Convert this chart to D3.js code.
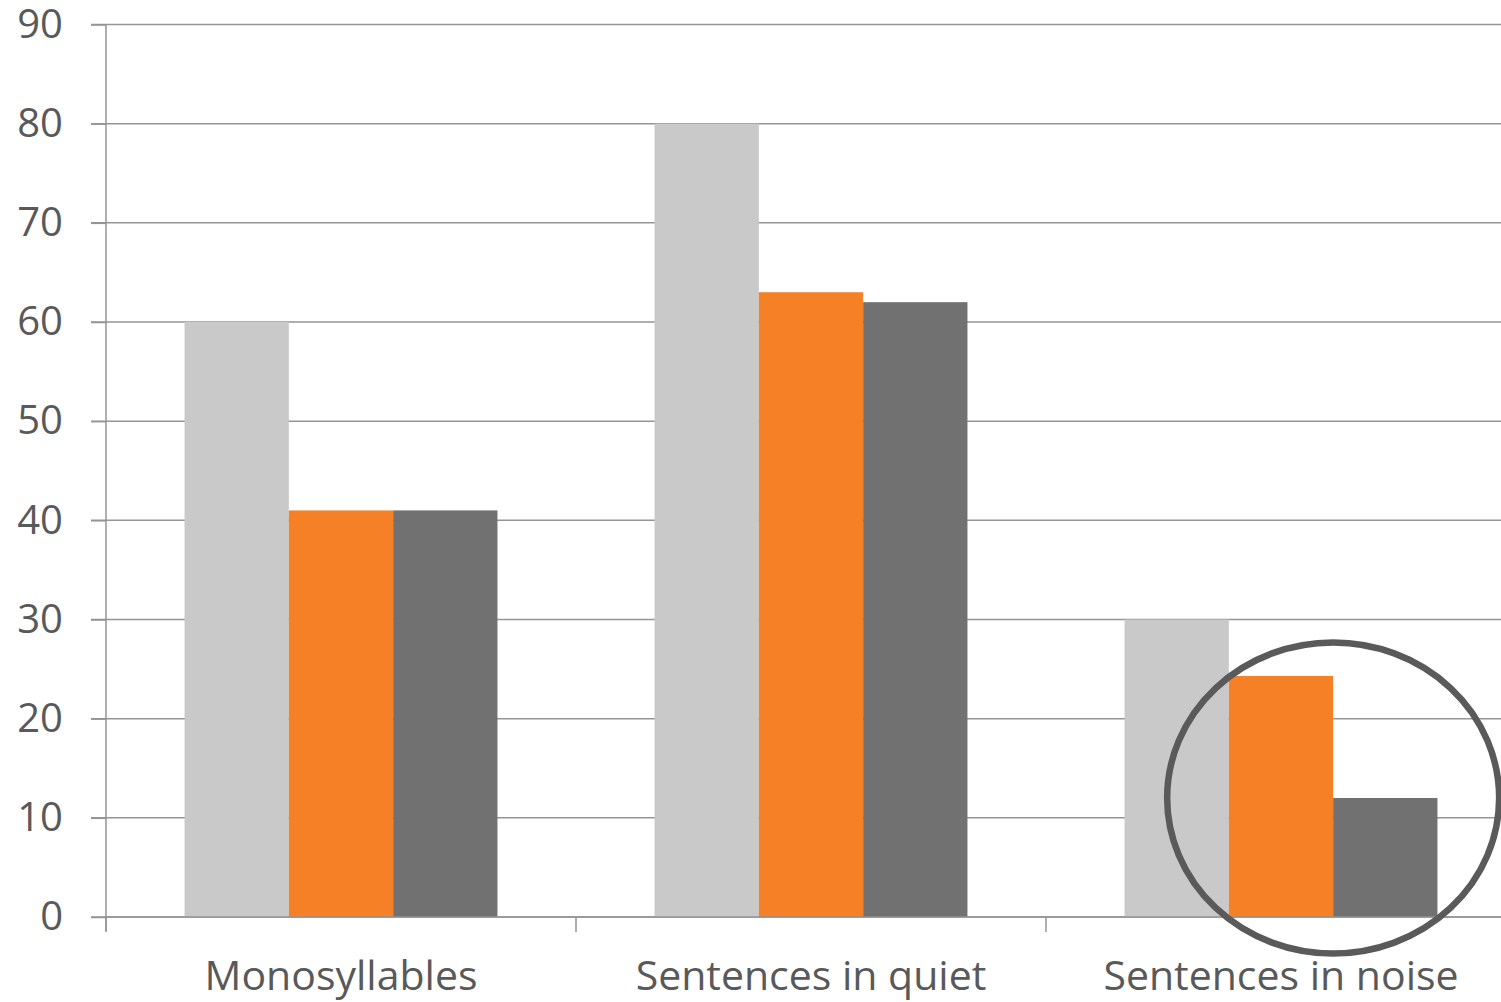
<!DOCTYPE html>
<html>
<head>
<meta charset="utf-8">
<script src="https://cdn.jsdelivr.net/npm/d3@7"></script>
<style>
  html, body { margin: 0; padding: 0; background: #ffffff; }
  svg { display: block; }
  text { font-family: "Open Sans", "Noto Sans", sans-serif; fill: #595959; }
</style>
</head>
<body>
<svg id="chart" width="1501" height="1002"></svg>
<script>
// Speech recognition scores by test condition
const categories = ["Monosyllables", "Sentences in quiet", "Sentences in noise"];
const seriesNames = ["Group A", "Group B", "Group C"];
const seriesColors = ["#c9c9c9", "#f58025", "#717171"];
const valuesA = [60, 80, 30];
const valuesB = [41, 63, 24.3];
const valuesC = [41, 62, 12];
const yTicks = [0, 10, 20, 30, 40, 50, 60, 70, 80, 90];

const seriesValues = [valuesA, valuesB, valuesC];

const svg = d3.select("#chart");
const plotLeft = 106, plotRight = 1516, plotTop = 24.5, plotBottom = 917;

const y = d3.scaleLinear().domain([0, 90]).range([plotBottom, plotTop]);
const x0 = d3.scaleBand().domain(categories).range([plotLeft, plotRight]).padding(0);
const x1 = d3.scaleBand().domain(seriesNames).range([0, x0.bandwidth()])
  .paddingInner(0).paddingOuter(0.753);

// Horizontal gridlines
svg.append("g")
  .selectAll("line")
  .data(yTicks)
  .join("line")
  .attr("x1", plotLeft - 15)
  .attr("x2", plotRight)
  .attr("y1", d => y(d))
  .attr("y2", d => y(d))
  .attr("stroke", "#959595")
  .attr("stroke-width", 1.5);

// Bars
const groups = svg.append("g")
  .selectAll("g")
  .data(categories)
  .join("g")
  .attr("transform", d => `translate(${x0(d)},0)`);

groups.selectAll("rect")
  .data((c, i) => seriesNames.map((s, k) => ({ s, k, v: seriesValues[k][i] })))
  .join("rect")
  .attr("x", d => x1(d.s))
  .attr("width", x1.bandwidth())
  .attr("y", d => y(d.v))
  .attr("height", d => y(0) - y(d.v))
  .attr("fill", d => seriesColors[d.k]);

// Y axis
const yAxis = d3.axisLeft(y).tickValues(yTicks).tickSize(15).tickPadding(28);
const gy = svg.append("g").attr("transform", `translate(${plotLeft},0)`).call(yAxis);
gy.select(".domain").attr("stroke", "#959595").attr("stroke-width", 1.5)
  .attr("d", `M0,${plotTop}V${plotBottom + 14}`);
gy.selectAll(".tick line").attr("stroke", "#959595").attr("stroke-width", 1.5);
gy.selectAll(".tick text")
  .style("font-family", "'Open Sans', sans-serif")
  .style("font-size", "40px")
  .attr("fill", "#595959")
  .attr("dy", "0.32em");

// X axis: tick marks at category boundaries, labels centred under each group
const gx = svg.append("g");
gx.append("line")
  .attr("x1", plotLeft).attr("x2", plotRight)
  .attr("y1", plotBottom).attr("y2", plotBottom)
  .attr("stroke", "#959595").attr("stroke-width", 1.5);
gx.selectAll("line.tk")
  .data(categories)
  .join("line")
  .attr("class", "tk")
  .attr("x1", d => x0(d)).attr("x2", d => x0(d))
  .attr("y1", plotBottom).attr("y2", plotBottom + 15)
  .attr("stroke", "#959595").attr("stroke-width", 1.5);
gx.selectAll("text")
  .data(categories)
  .join("text")
  .attr("x", d => x0(d) + x1("Group B") + x1.bandwidth() / 2)
  .attr("y", 990)
  .attr("text-anchor", "middle")
  .style("font-size", "41px")
  .text(d => d);

// Highlight ring around the noise condition
const hc = categories[2];
svg.append("ellipse")
  .attr("cx", x0(hc) + x1("Group B") + x1.bandwidth())
  .attr("cy", y(12))
  .attr("rx", 166)
  .attr("ry", 155.5)
  .attr("fill", "none")
  .attr("stroke", "#5a5a5a")
  .attr("stroke-width", 6.5);
</script>
</body>
</html>
